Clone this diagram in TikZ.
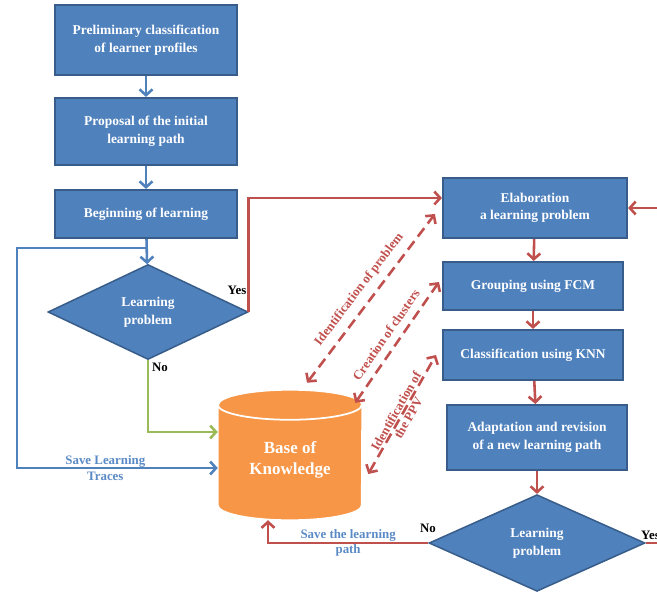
\documentclass[tikz,border=0pt]{standalone}
\usepackage{fontspec}
\setmainfont{Liberation Serif}
\usetikzlibrary{shapes.geometric,arrows.meta,calc}
\definecolor{boxblue}{HTML}{4F81BD}
\definecolor{boxedge}{HTML}{385D8A}
\definecolor{arrred}{HTML}{C0504D}
\definecolor{arrgreen}{HTML}{9BBB59}
\definecolor{kborange}{HTML}{F79646}
\definecolor{lblblue}{HTML}{5A8AC6}
\begin{document}
\begin{tikzpicture}[x=0.03cm,y=-0.03cm,
 box/.style={rectangle,draw=boxedge,line width=1.8pt,fill=boxblue,text=white,
  font=\bfseries\fontsize{11.5}{15}\selectfont,align=center,inner sep=2pt},
 decision/.style={diamond,draw=boxedge,line width=1.3pt,fill=boxblue,text=white,
  font=\bfseries\fontsize{11.5}{15}\selectfont,align=center,inner sep=0pt},
 bluearrow/.style={draw=boxblue,line width=2.2pt,-{Straight Barb[length=5pt,width=11pt]}},
 redarrow/.style={draw=arrred,line width=2.2pt,-{Straight Barb[length=5pt,width=11pt]}},
 redline/.style={draw=arrred,line width=2.2pt},
 greenarrow/.style={draw=arrgreen,line width=2.2pt,-{Straight Barb[length=5pt,width=11pt]}},
 dashlink/.style={draw=arrred,line width=2.2pt,dash pattern=on 9pt off 5pt,
  {Straight Barb[length=5pt,width=11pt]}-{Straight Barb[length=5pt,width=11pt]}},
 dashlbl/.style={text=arrred,font=\bfseries\fontsize{11}{12}\selectfont,align=center},
 pathlbl/.style={text=lblblue,font=\bfseries\fontsize{11}{13}\selectfont,align=center},
 yesno/.style={font=\bfseries\fontsize{11}{13}\selectfont}]
\clip (0,0) rectangle (657,592);

\node[box,minimum width=5.46cm,minimum height=2.1cm] (prelim) at (146,40) {Preliminary classification\\of learner profiles};
\node[box,minimum width=5.46cm,minimum height=2.01cm] (propose) at (146,131.5) {Proposal of the initial\\learning path};
\node[box,minimum width=5.46cm,minimum height=1.44cm] (begin) at (146,214) {Beginning of learning};
\node[decision,minimum width=6cm,minimum height=2.85cm] (d1) at (148,312) {Learning\\problem};

\node[box,minimum width=5.52cm,minimum height=1.8cm] (elab) at (535,208) {Elaboration\\a learning problem};
\node[box,minimum width=5.4cm,minimum height=1.44cm] (group) at (533,286) {Grouping using FCM};
\node[box,minimum width=5.4cm,minimum height=1.5cm] (classif) at (533,355) {Classification using KNN};
\node[box,minimum width=5.4cm,minimum height=1.95cm] (adapt) at (537,437.5) {Adaptation and revision\\of a new learning path};
\node[decision,minimum width=6.48cm,minimum height=2.9cm] (d2) at (537,543) {Learning\\problem};

\node[minimum width=4.32cm,minimum height=3.9cm,inner sep=0pt] (kb) at (290,455) {};
\fill[kborange,draw=white,line width=1.5pt] ($(kb.north west)+(0,15)$) -- ($(kb.south west)+(0,-15)$)
 arc[start angle=180,end angle=360,x radius=2.16cm,y radius=0.45cm] -- ($(kb.north east)+(0,15)$)
 arc[start angle=0,end angle=180,x radius=2.16cm,y radius=0.45cm] -- cycle;
\draw[white,line width=1.5pt] ($(kb.north west)+(0,15)$) arc[start angle=180,end angle=360,x radius=2.16cm,y radius=0.45cm];
\node[text=white,font=\bfseries\fontsize{14.5}{18}\selectfont,align=center] (kbtext) at ([yshift=-0.15cm]kb.center) {Base of\\Knowledge};

\draw[bluearrow] (prelim) -- (propose);
\draw[bluearrow] (propose) -- (begin);
\draw[bluearrow] (begin) -- (d1);
\coordinate (loopc) at (17,248);
\draw[bluearrow] (begin.south |- loopc) -- (loopc) |- ([yshift=-0.39cm]kb.west)
 node[pathlbl,pos=0.72] {Save Learning\\Traces};
\draw[greenarrow] (d1.south) |- ([yshift=0.69cm]kb.west);
\draw[redarrow] (d1.east) |- ([yshift=0.3cm]elab.west);
\node[yesno] (yes1) at (237,290) {Yes};
\node[yesno] (no1) at (160,367) {No};

\draw[redarrow] (elab) -- (group);
\draw[redarrow] (group) -- (classif);
\draw[redarrow] (classif) -- (adapt);
\draw[redarrow] (adapt) -- (d2);
\coordinate (offr) at (680,208);
\draw[redarrow] (offr) -- (elab.east);
\coordinate (offy) at (680,543);
\draw[redline] (d2.east) -- (offy);
\draw[redarrow] (d2.west) -| ([xshift=-0.66cm]kb.south)
 node[pathlbl,pos=0.25] {Save the learning\\path};
\node[yesno] (no2) at (428,528) {No};
\node[yesno,anchor=west] (yes2) at (637,535) {Yes};

\draw[dashlink] ([xshift=0.51cm,yshift=0.21cm]kb.north) -- ([xshift=-0.21cm,yshift=-0.18cm]elab.west)
 node[dashlbl,midway,sloped,above=3pt] {Identification of problem};
\draw[dashlink] ([xshift=-0.21cm,yshift=-0.39cm]kb.north east) -- ([xshift=-0.09cm,yshift=0.12cm]group.west)
 node[dashlbl,midway,sloped,above=3pt] {Creation of clusters};
\draw[dashlink] ([xshift=0.18cm,yshift=-0.57cm]kb.east) -- ([xshift=-0.18cm]classif.west)
 node[dashlbl,midway,sloped] {Identification of\\the PPV};
\end{tikzpicture}
\end{document}
